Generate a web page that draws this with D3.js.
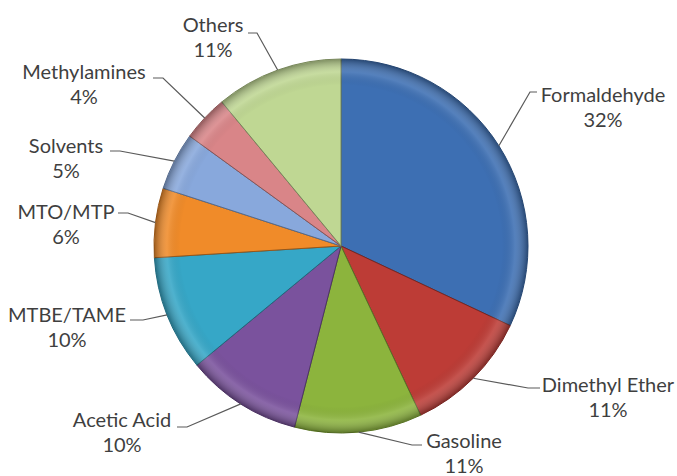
<!DOCTYPE html>
<html><head><meta charset="utf-8">
<script src="https://cdn.jsdelivr.net/npm/d3@7"></script>
<style>html,body{margin:0;padding:0;background:#fff;}svg{display:block;}</style>
</head><body>
<svg id="chart" width="677" height="476"></svg>
<script>
const categories = ["Formaldehyde","Dimethyl Ether","Gasoline","Acetic Acid","MTBE/TAME","MTO/MTP","Solvents","Methylamines","Others"];
const shares = [32, 11, 11, 10, 10, 6, 5, 4, 11];
const colors = ["#3d6fb3","#bd3c36","#8cb43d","#7a529d","#36a7c7","#f08b29","#88a8dc","#d98588","#bfd793"];
// label layout: text centre x, name line y, leader elbow x, leader y, leader end x
const labelLayout = [
  {cx:603, y:95,  ex:530, ly:92,  lx:537},
  {cx:608, y:385, ex:528, ly:388, lx:540},
  {cx:464, y:441, ex:412, ly:445, lx:422},
  {cx:122, y:420, ex:187, ly:427, lx:177},
  {cx:67,  y:315, ex:143, ly:320, lx:130},
  {cx:66,  y:212, ex:128, ly:213, lx:118},
  {cx:66,  y:146, ex:120, ly:151, lx:110},
  {cx:84,  y:72,  ex:163, ly:78,  lx:153},
  {cx:213, y:25,  ex:257, ly:33,  lx:248}
];

const svg = d3.select("#chart");
const cx = 341, cy = 246, R = 187;
const data = categories.map((c,i)=>({name:c, value:shares[i], color:colors[i], lay:labelLayout[i]}));
const pie = d3.pie().value(d=>d.value).sort(null);
const arcs = pie(data);
const arc = d3.arc().innerRadius(0).outerRadius(R);

const defs = svg.append("defs");
const rg = defs.append("radialGradient").attr("id","edge").attr("gradientUnits","userSpaceOnUse")
  .attr("cx",0).attr("cy",0).attr("r",R);
rg.append("stop").attr("offset","0").attr("stop-color","#000").attr("stop-opacity",0);
rg.append("stop").attr("offset","0.86").attr("stop-color","#000").attr("stop-opacity",0);
rg.append("stop").attr("offset","0.93").attr("stop-color","#fff").attr("stop-opacity",0.12);
rg.append("stop").attr("offset","1").attr("stop-color","#000").attr("stop-opacity",0.35);

const g = svg.append("g").attr("transform",`translate(${cx},${cy})`);
g.selectAll("path.slice").data(arcs).enter().append("path").attr("class","slice")
  .attr("d",arc).attr("fill",d=>d.data.color)
  .attr("stroke",d=>d3.color(d.data.color).darker(1.3)).attr("stroke-width",1);
g.selectAll("path.shade").data(arcs).enter().append("path").attr("class","shade")
  .attr("d",d3.arc().innerRadius(0).outerRadius(R-0.5)).attr("fill","url(#edge)");

// leader lines
const lines = svg.append("g");
arcs.forEach(a=>{
  const mid = (a.startAngle+a.endAngle)/2;
  const px = cx + R*Math.sin(mid), py = cy - R*Math.cos(mid);
  const L = a.data.lay;
  lines.append("path").attr("d",`M${px},${py}L${L.ex},${L.ly}L${L.lx},${L.ly}`)
    .attr("fill","none").attr("stroke","#5a5a5a").attr("stroke-width",1.2);
});

const labels = svg.append("g").attr("font-family","Lato, 'Open Sans', sans-serif")
  .attr("font-size",20).attr("fill","#3f3f3f").attr("text-anchor","middle");
data.forEach(d=>{
  const L = d.lay;
  labels.append("text").attr("x",L.cx).attr("y",L.y).attr("dy","0.35em").text(d.name);
  labels.append("text").attr("x",L.cx).attr("y",L.y+25).attr("dy","0.35em").text(d.value+"%");
});
</script>
</body></html>
